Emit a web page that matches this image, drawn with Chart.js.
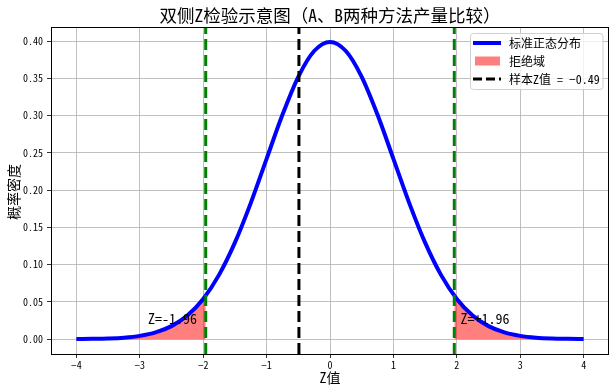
<!DOCTYPE html>
<html>
<head>
<meta charset="utf-8">
<script src="https://cdn.jsdelivr.net/npm/chart.js@4.4.0/dist/chart.umd.min.js"></script>
<style>
html, body { margin: 0; padding: 0; background: #fff; }
#wrap { width: 616px; height: 392px; }
</style>
</head>
<body>
<div id="wrap"><canvas id="chart" width="616" height="392"></canvas></div>
<script>
// valori
var zValues = [-4, -3.75, -3.5, -3.25, -3, -2.75, -2.5, -2.25, -2, -1.75, -1.5, -1.25, -1, -0.75, -0.5, -0.25,
    0, 0.25, 0.5, 0.75, 1, 1.25, 1.5, 1.75, 2, 2.25, 2.5, 2.75, 3, 3.25, 3.5, 3.75, 4];
var density = [0.0001, 0.0004, 0.0009, 0.0020, 0.0044, 0.0091, 0.0175, 0.0317, 0.0540, 0.0863, 0.1295, 0.1826,
    0.2420, 0.3011, 0.3521, 0.3867, 0.3989, 0.3867, 0.3521, 0.3011, 0.2420, 0.1826, 0.1295, 0.0863, 0.0540,
    0.0317, 0.0175, 0.0091, 0.0044, 0.0020, 0.0009, 0.0004, 0.0001];
var leftTailZ = [-4, -3.75, -3.5, -3.25, -3, -2.75, -2.5, -2.25, -2, -1.96];
var leftTailY = [0.0001, 0.0004, 0.0009, 0.0020, 0.0044, 0.0091, 0.0175, 0.0317, 0.0540, 0.0584];
var rightTailZ = [1.96, 2, 2.25, 2.5, 2.75, 3, 3.25, 3.5, 3.75, 4];
var rightTailY = [0.0584, 0.0540, 0.0317, 0.0175, 0.0091, 0.0044, 0.0020, 0.0009, 0.0004, 0.0001];
var criticalZ = [-1.96, 1.96];
var sampleZ = -0.49;
var xTicks = [-4, -3, -2, -1, 0, 1, 2, 3, 4];
var yTicks = [0, 0.05, 0.1, 0.15, 0.2, 0.25, 0.3, 0.35, 0.4];
var yMin = -0.0199, yMax = 0.4189;

var cjk = '"Noto Sans CJK SC", "DejaVu Sans", sans-serif';
var mono = '"Noto Sans Mono CJK SC", "Noto Sans CJK SC", "DejaVu Sans", sans-serif';

function toPoints(xs, ys) {
    return xs.map(function (x, i) { return {x: x, y: ys[i]}; });
}
function vline(x) {
    return [{x: x, y: yMin}, {x: x, y: yMax}];
}

// plugin per titolo, cornice, testi e legenda
var extras = {
    id: 'extras',
    afterDraw: function (chart) {
        var ctx = chart.ctx;
        var a = chart.chartArea;
        var xs = chart.scales.x, ys = chart.scales.y;
        ctx.save();
        // cornice
        ctx.strokeStyle = '#000';
        ctx.lineWidth = 1;
        ctx.strokeRect(a.left + 0.5, a.top + 0.5, a.right - a.left - 1, a.bottom - a.top);
        // titolo
        ctx.fillStyle = '#000';
        ctx.textAlign = 'center';
        ctx.textBaseline = 'middle';
        ctx.font = '17.5px ' + mono;
        ctx.fillText('双侧Z检验示意图（A、B两种方法产量比较）', (a.left + a.right) / 2, 15);
        ctx.font = '14px ' + mono;
        ctx.fillText('Z值', (a.left + a.right) / 2, 378);
        ctx.save();
        ctx.translate(14, 192);
        ctx.rotate(-Math.PI / 2);
        ctx.fillText('概率密度', 0, 0);
        ctx.restore();
        // annotazioni
        ctx.textAlign = 'left';
        ctx.textBaseline = 'alphabetic';
        ctx.font = '14px ' + mono;
        ctx.fillText('Z=-1.96', xs.getPixelForValue(-2.87), ys.getPixelForValue(0.02));
        ctx.fillText('Z=+1.96', xs.getPixelForValue(2.06), ys.getPixelForValue(0.02));
        // legenda
        var lx = 470.5, ly = 33, lw = 132.5, lh = 56;
        ctx.fillStyle = 'rgba(255,255,255,0.8)';
        ctx.strokeStyle = '#d0d0d0';
        ctx.lineWidth = 1;
        ctx.beginPath();
        ctx.roundRect(lx, ly + 0.5, lw, lh, 3);
        ctx.fill();
        ctx.stroke();
        var rows = [43, 61, 79];
        ctx.lineWidth = 4;
        ctx.strokeStyle = '#0000ff';
        ctx.beginPath();
        ctx.moveTo(473, rows[0]); ctx.lineTo(501, rows[0]);
        ctx.stroke();
        ctx.fillStyle = 'rgba(255,0,0,0.5)';
        ctx.fillRect(475, rows[1] - 4.5, 25, 9);
        ctx.strokeStyle = '#000';
        ctx.lineWidth = 3;
        ctx.setLineDash([9, 4]);
        ctx.beginPath();
        ctx.moveTo(473, rows[2]); ctx.lineTo(501, rows[2]);
        ctx.stroke();
        ctx.setLineDash([]);
        ctx.fillStyle = '#000';
        ctx.font = '12px ' + mono;
        ctx.textBaseline = 'middle';
        ctx.fillText('标准正态分布', 509, rows[0]);
        ctx.fillText('拒绝域', 509, rows[1]);
        ctx.fillText('样本Z值 = \u22120.49', 509, rows[2]);
        ctx.restore();
    }
};

var dashed = [11, 5];
var chart = new Chart(document.getElementById('chart'), {
    type: 'line',
    data: {
        datasets: [{
            label: 'crit-left',
            data: vline(criticalZ[0]),
            borderColor: '#008000',
            borderWidth: 3,
            borderDash: dashed,
            pointRadius: 0
        }, {
            label: 'crit-right',
            data: vline(criticalZ[1]),
            borderColor: '#008000',
            borderWidth: 3,
            borderDash: dashed,
            pointRadius: 0
        }, {
            label: '样本Z值 = -0.49',
            data: vline(sampleZ),
            borderColor: '#000',
            borderWidth: 3,
            borderDash: dashed,
            pointRadius: 0
        }, {
            label: '标准正态分布',
            data: toPoints(zValues, density),
            borderColor: '#0000ff',
            borderWidth: 4,
            pointRadius: 0,
            cubicInterpolationMode: 'monotone',
            borderCapStyle: 'butt'
        }, {
            label: '拒绝域',
            data: toPoints(leftTailZ, leftTailY),
            borderWidth: 0,
            borderColor: 'rgba(255,0,0,0.5)',
            backgroundColor: 'rgba(255,0,0,0.5)',
            fill: 'origin',
            pointRadius: 0,
            cubicInterpolationMode: 'monotone'
        }, {
            label: 'right-tail',
            data: toPoints(rightTailZ, rightTailY),
            borderWidth: 0,
            borderColor: 'rgba(255,0,0,0.5)',
            backgroundColor: 'rgba(255,0,0,0.5)',
            fill: 'origin',
            pointRadius: 0,
            cubicInterpolationMode: 'monotone'
        }]
    },
    options: {
        responsive: false,
        animation: false,
        layout: { padding: { top: 27, right: 7, left: 0, bottom: 0 } },
        plugins: {
            legend: { display: false },
            title: { display: false },
            tooltip: { enabled: false }
        },
        scales: {
            x: {
                type: 'linear',
                min: -4.4,
                max: 4.4,
                afterBuildTicks: function (scale) {
                    scale.ticks = xTicks.map(function (v) { return {value: v}; });
                },
                afterFit: function (scale) { scale.height = 38; },
                ticks: {
                    padding: 1,
                    color: '#000',
                    font: { family: mono, size: 10 },
                    maxRotation: 0,
                    callback: function (v) { return String(v).replace('-', '\u2212'); }
                },
                grid: { color: '#b0b0b0', lineWidth: 0.8, tickColor: '#000', tickLength: 4 },
                border: { display: false }
            },
            y: {
                type: 'linear',
                min: yMin,
                max: yMax,
                afterBuildTicks: function (scale) {
                    scale.ticks = yTicks.map(function (v) { return {value: v}; });
                },
                afterFit: function (scale) { scale.width = 51; },
                ticks: {
                    padding: 4,
                    color: '#000',
                    font: { family: mono, size: 10 },
                    callback: function (v) { return v.toFixed(2); }
                },
                grid: { color: '#b0b0b0', lineWidth: 0.8, tickColor: '#000', tickLength: 4 },
                border: { display: false }
            }
        }
    },
    plugins: [extras]
});
</script>
</body>
</html>
